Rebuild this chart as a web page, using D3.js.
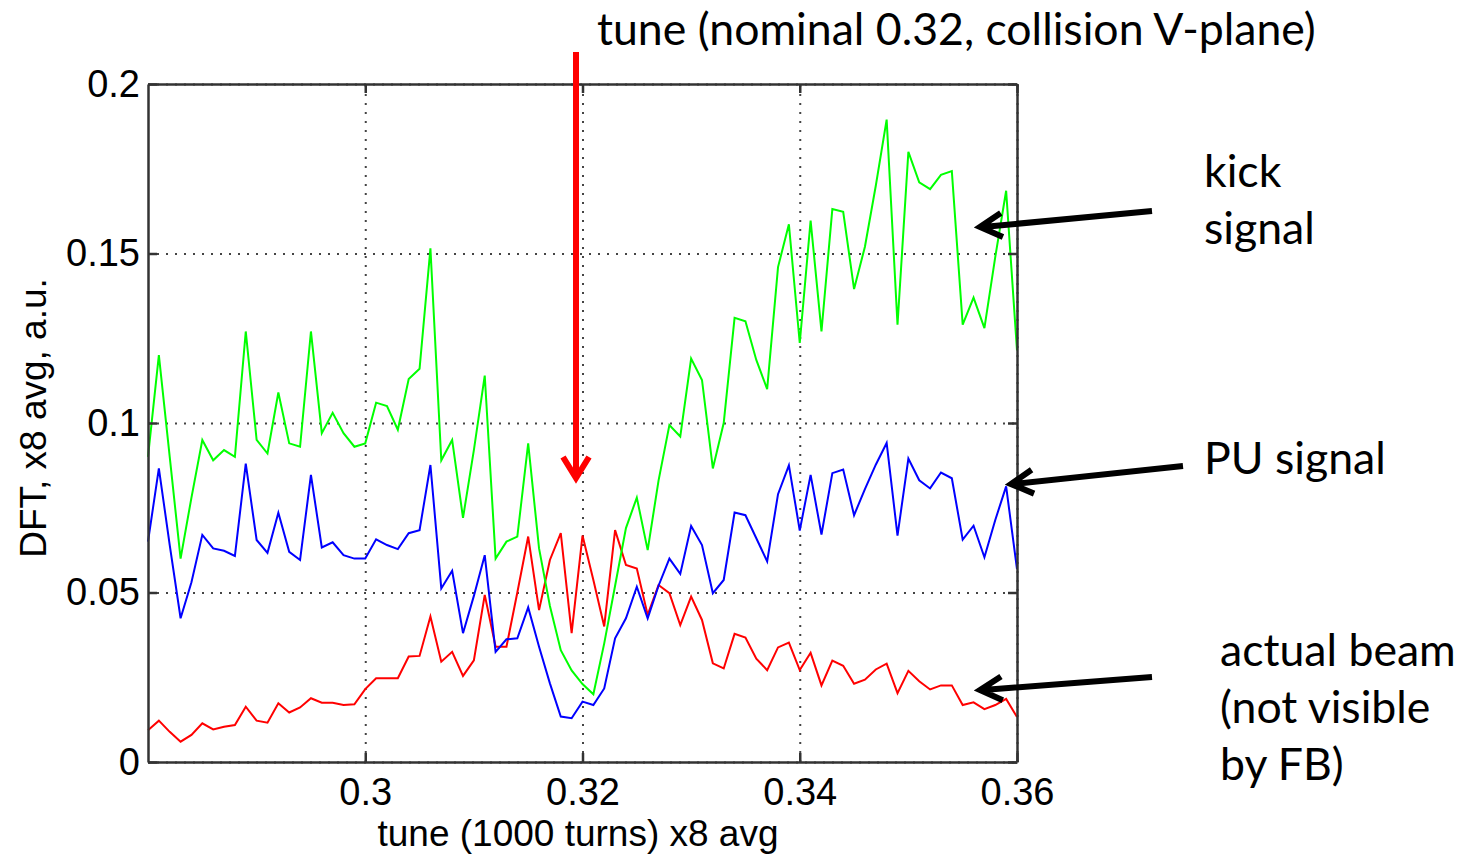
<!DOCTYPE html>
<html>
<head>
<meta charset="utf-8">
<script src="https://cdn.jsdelivr.net/npm/d3@7"></script>
<style>
  body { margin: 0; background: #fff; }
  svg { display: block; }
  .ax text { font-family: "Liberation Sans", Arial, sans-serif; font-size: 38px; fill: #000; }
  .note { font-family: Lato, "Open Sans", sans-serif; font-size: 44.6px; fill: #000; }
</style>
</head>
<body>
<div id="chart"></div>
<script>
// tune values (x), one per 0.001 step
const tune = [0.280,0.281,0.282,0.283,0.284,0.285,0.286,0.287,0.288,0.289,
  0.290,0.291,0.292,0.293,0.294,0.295,0.296,0.297,0.298,0.299,
  0.300,0.301,0.302,0.303,0.304,0.305,0.306,0.307,0.308,0.309,
  0.310,0.311,0.312,0.313,0.314,0.315,0.316,0.317,0.318,0.319,
  0.320,0.321,0.322,0.323,0.324,0.325,0.326,0.327,0.328,0.329,
  0.330,0.331,0.332,0.333,0.334,0.335,0.336,0.337,0.338,0.339,
  0.340,0.341,0.342,0.343,0.344,0.345,0.346,0.347,0.348,0.349,
  0.350,0.351,0.352,0.353,0.354,0.355,0.356,0.357,0.358,0.359,0.360]

// kick signal (green)
const kick = [0.090,0.120,0.090,0.060,0.078,0.095,0.089,0.092,0.090,0.127,
  0.095,0.091,0.109,0.094,0.093,0.127,0.097,0.103,0.097,0.093,
  0.094,0.106,0.105,0.098,0.113,0.116,0.1515,0.089,0.095,0.072,
  0.092,0.114,0.060,0.065,0.0665,0.094,0.063,0.046,0.033,0.027,
  0.023,0.020,0.035,0.052,0.069,0.078,0.0625,0.083,0.0994,0.096,
  0.119,0.1127,0.0866,0.100,0.131,0.130,0.1186,0.110,0.146,0.1586,
  0.1236,0.1597,0.127,0.1631,0.1623,0.1395,0.152,0.170,0.1895,0.129,
  0.180,0.171,0.169,0.1732,0.1743,0.129,0.137,0.128,0.149,0.1685,0.1214]

// PU signal (blue)
const pu = [0.065,0.0866,0.064,0.0424,0.053,0.067,0.063,0.0623,0.0608,0.088,
  0.0655,0.0617,0.0735,0.062,0.0596,0.0847,0.0633,0.0648,0.061,0.060,
  0.060,0.0657,0.064,0.0628,0.0675,0.0684,0.0876,0.0512,0.0564,0.038,
  0.049,0.061,0.0325,0.0362,0.0365,0.0456,0.034,0.0232,0.0134,0.0129,
  0.0178,0.0168,0.0217,0.0365,0.0424,0.0517,0.0424,0.052,0.060,0.0555,
  0.0696,0.064,0.0498,0.0537,0.0736,0.0728,0.066,0.0592,0.079,0.0875,
  0.0683,0.0847,0.0671,0.0852,0.0863,0.0728,0.0805,0.0877,0.0941,0.0668,
  0.0895,0.0831,0.0807,0.0854,0.0837,0.0656,0.0697,0.0604,0.0714,0.0813,0.0569]

// actual beam (red)
const beam = [0.0094,0.0122,0.0089,0.006,0.008,0.0114,0.0096,0.0104,0.0109,0.0163,
  0.0122,0.0116,0.0173,0.0146,0.0161,0.0188,0.0175,0.0175,0.0168,0.0170,
  0.0215,0.0247,0.0247,0.0247,0.0311,0.0313,0.0429,0.0296,0.0325,0.0254,
  0.030,0.0493,0.034,0.034,0.050,0.0665,0.0448,0.0596,0.0675,0.038,
  0.0668,0.0537,0.040,0.0684,0.0581,0.0571,0.0434,0.0522,0.0498,0.0404,
  0.0488,0.0419,0.0291,0.0276,0.0378,0.0367,0.0305,0.0271,0.0338,0.0352,
  0.0271,0.0322,0.0226,0.0299,0.0284,0.0231,0.0243,0.0273,0.029,0.0203,
  0.0269,0.0238,0.0214,0.0226,0.0226,0.0168,0.0176,0.0156,0.0168,0.0186,0.0133]

const xTicks = [0.30, 0.32, 0.34, 0.36]
const yTicks = [0, 0.05, 0.1, 0.15, 0.2]

const width = 1477, height = 856
const plot = {left: 148, right: 1017, top: 84, bottom: 762}

const svg = d3.select("#chart").append("svg")
    .attr("width", width)
    .attr("height", height)

const x = d3.scaleLinear().domain([0.28, 0.36]).range([plot.left, plot.right])
const y = d3.scaleLinear().domain([0, 0.2]).range([plot.bottom, plot.top])

// dotted grid
svg.append("g")
    .attr("transform", `translate(0,${plot.bottom})`)
    .call(d3.axisBottom(x).tickValues(xTicks).tickSize(-(plot.bottom - plot.top)).tickFormat(""))
    .call(g => g.select(".domain").remove())
    .call(g => g.selectAll("line").attr("stroke", "#444").attr("stroke-width", 2).attr("stroke-dasharray", "2,7"))
svg.append("g")
    .attr("transform", `translate(${plot.left},0)`)
    .call(d3.axisLeft(y).tickValues(yTicks).tickSize(-(plot.right - plot.left)).tickFormat(""))
    .call(g => g.select(".domain").remove())
    .call(g => g.selectAll("line").attr("stroke", "#444").attr("stroke-width", 2).attr("stroke-dasharray", "2,7"))

// series
const line = d3.line().x((d, i) => x(tune[i])).y(d => y(d))
const series = [
  {values: beam, color: "#ff0000"},
  {values: pu, color: "#0000ff"},
  {values: kick, color: "#00ff00"}
]
svg.selectAll("path.series")
    .data(series)
    .enter()
    .append("path")
    .attr("class", "series")
    .attr("fill", "none")
    .attr("stroke", d => d.color)
    .attr("stroke-width", 2)
    .attr("d", d => line(d.values))

// axes (matlab box with inward ticks)
const styleAxis = g => {
  g.attr("class", "ax")
  g.select(".domain").attr("stroke", "#333").attr("stroke-width", 2.5)
  g.selectAll(".tick line").attr("stroke", "#333").attr("stroke-width", 2.5)
}
svg.append("g")
    .attr("transform", `translate(0,${plot.bottom})`)
    .call(d3.axisBottom(x).tickValues(xTicks).tickSizeInner(-9).tickSizeOuter(0).tickPadding(16).tickFormat(d3.format("~g")))
    .call(styleAxis)
svg.append("g")
    .attr("transform", `translate(${plot.left},0)`)
    .call(d3.axisLeft(y).tickValues(yTicks).tickSizeInner(-9).tickSizeOuter(0).tickPadding(8).tickFormat(d3.format("~g")))
    .call(styleAxis)
svg.append("g")
    .attr("transform", `translate(0,${plot.top})`)
    .call(d3.axisTop(x).tickValues(xTicks).tickSizeInner(-9).tickSizeOuter(0).tickFormat(""))
    .call(styleAxis)
svg.append("g")
    .attr("transform", `translate(${plot.right},0)`)
    .call(d3.axisRight(y).tickValues(yTicks).tickSizeInner(-9).tickSizeOuter(0).tickFormat(""))
    .call(styleAxis)

// axis titles
svg.append("text")
    .attr("x", 578).attr("y", 846)
    .attr("text-anchor", "middle")
    .style("font-family", "'Liberation Sans', Arial, sans-serif")
    .style("font-size", "37px")
    .text("tune (1000 turns) x8 avg")
svg.append("text")
    .attr("transform", "translate(46,418) rotate(-90)")
    .attr("text-anchor", "middle")
    .style("font-family", "'Liberation Sans', Arial, sans-serif")
    .style("font-size", "37px")
    .text("DFT, x8 avg, a.u.")

// annotations
svg.append("text").attr("class", "note").attr("x", 597).attr("y", 45)
    .text("tune (nominal 0.32, collision V-plane)")

const notes = [
  {text: "kick", x: 1204, y: 187},
  {text: "signal", x: 1204, y: 244},
  {text: "PU signal", x: 1204, y: 474},
  {text: "actual beam", x: 1220, y: 666},
  {text: "(not visible", x: 1220, y: 723},
  {text: "by FB)", x: 1220, y: 780}
]
svg.selectAll("text.lbl")
    .data(notes)
    .enter()
    .append("text")
    .attr("class", "note lbl")
    .attr("x", d => d.x)
    .attr("y", d => d.y)
    .text(d => d.text)

// red arrow at nominal tune
svg.append("path")
    .attr("d", "M576,52 L576,476 M563,457 L576,478 L589,457")
    .attr("fill", "none")
    .attr("stroke", "#ff0000")
    .attr("stroke-width", 6)

// black arrows
const arrows = [
  {from: [1152, 211], to: [980, 227]},
  {from: [1183, 466], to: [1011, 484]},
  {from: [1152, 677], to: [980, 690]}
]
arrows.forEach(a => {
  const ang = Math.atan2(a.from[1] - a.to[1], a.from[0] - a.to[0])
  const len = 25, spread = 0.5
  const p1 = [a.to[0] + len * Math.cos(ang + spread), a.to[1] + len * Math.sin(ang + spread)]
  const p2 = [a.to[0] + len * Math.cos(ang - spread), a.to[1] + len * Math.sin(ang - spread)]
  svg.append("path")
      .attr("d", `M${a.from[0]},${a.from[1]} L${a.to[0] + 3},${a.to[1]} M${p1[0]},${p1[1]} L${a.to[0]},${a.to[1]} L${p2[0]},${p2[1]}`)
      .attr("fill", "none")
      .attr("stroke", "#000")
      .attr("stroke-width", 6)
      .attr("stroke-linejoin", "miter")
})
</script>
</body>
</html>
